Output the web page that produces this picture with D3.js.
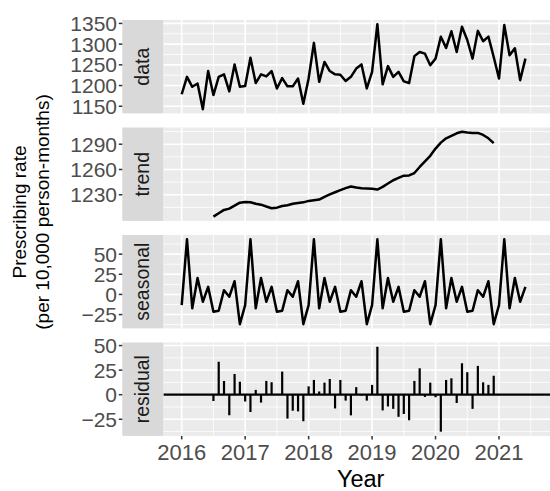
<!DOCTYPE html>
<html><head><meta charset="utf-8">
<script src="https://cdn.jsdelivr.net/npm/d3@7"></script>
<style>body{margin:0;background:#fff}svg{display:block}</style>
</head><body>
<svg id="c" width="550" height="491"></svg>
<script>
// ---- data (monthly, Jan 2016 .. Jun 2021) ----
const startYear = 2016;
const dataVals = [1179,1221,1197,1205,1143,1235,1177,1221,1227,1186,1251,1197,
  1199,1267,1206,1227,1222,1235,1193,1218,1198,1198,1217,1156,
  1217,1303,1209,1257,1235,1227,1226,1211,1221,1241,1251,1193,
  1233,1348,1203,1247,1221,1233,1210,1206,1271,1281,1277,1249,
  1265,1318,1291,1331,1281,1342,1310,1265,1332,1307,1318,1269,
  1217,1346,1273,1290,1213,1265];
const trendVals = [null,null,null,null,null,null,
  1204,1208,1212,1213.5,1217,1220.6,
  1221.3,1221,1219.4,1218.2,1216,1214,1214.7,1216.6,1217.5,1219.4,1220.2,1221,
  1222.7,1223.5,1224.3,1227.6,1230.4,1233,1235.4,1237.8,1239.8,1238.6,1237.8,1237.4,
  1237,1236.2,1239.4,1243.3,1247.2,1250,1252.7,1253,1255.8,1263,1269.5,1276.2,
  1284.8,1291.9,1297,1300,1303,1304.8,1304,1303.4,1303.4,1301,1297,1291.2,
  null,null,null,null,null,null];
const seasonalVals = [-13.2,68.5,-17.2,20.4,-9.1,9.4,-21.4,-20.2,5.3,-2.9,16.4,-36.9,
  -13.2,68.5,-17.2,20.4,-9.1,9.4,-21.4,-20.2,5.3,-2.9,16.4,-36.9,
  -13.2,68.5,-17.2,20.4,-9.1,9.4,-21.4,-20.2,5.3,-2.9,16.4,-36.9,
  -13.2,68.5,-17.2,20.4,-9.1,9.4,-21.4,-20.2,5.3,-2.9,16.4,-36.9,
  -13.2,68.5,-17.2,20.4,-9.1,9.4,-21.4,-20.2,5.3,-2.9,16.4,-36.9,
  -13.2,68.5,-17.2,20.4,-9.1,9.4];
const residualVals = [null,null,null,null,null,null,
  -6.3,33.5,14,-21,21,13.3,
  -7,-17.6,4.9,-8,14,12.7,0.8,23.5,-24.3,-16.3,-17,-27,
  8.5,15,3.3,12.3,16,-14,15,-6,-21,7.7,-0.8,-6,
  10,48.8,-16,-12,-14.4,-22.5,-19.6,-26,14,26.9,-2.3,12.3,
  -2.6,-37.6,15,16.7,-8.4,32,22.9,-14.4,29.3,12.6,10,19.3,
  null,null,null,null,null,null];
const panelNames = ["data","trend","seasonal","residual"];
const yTickData = [1150,1200,1250,1300,1350];
const yTickTrend = [1230,1260,1290];
const yTickSeasonal = [-25,0,25,50];
const yTickResidual = [-25,0,25,50];
const xTickYears = [2016,2017,2018,2019,2020,2021];
const xTitle = "Year";
const yTitle1 = "Prescribing rate";
const yTitle2 = "(per 10,000 person-months)";

const series = [dataVals, trendVals, seasonalVals, residualVals];
const ticksList = [yTickData, yTickTrend, yTickSeasonal, yTickResidual];

// ---- layout ----
const svg = d3.select("#c");
const font = "'Liberation Sans', Arial, Helvetica, sans-serif";
const stripL = 122.3, panL = 163.3, panR = 558;
const top0 = 20, ph = 93.4, gap = 14.1;
const x = d3.scaleLinear().domain([2016, 2021]).range([181.7, 499]);
const tx = i => startYear + i / 12;
const xDom = [x.invert(panL), x.invert(panR)];

svg.append("defs").append("clipPath").attr("id", "clipAll")
  .append("rect").attr("x", panL).attr("y", 0).attr("width", panR - panL).attr("height", 491);

function minorsOf(ticks, lo, hi) {
  const step = ticks[1] - ticks[0];
  const out = [];
  for (let v = ticks[0] - step / 2; v <= hi; v += step) if (v >= lo) out.push(v);
  for (let v = ticks[0] - step * 1.5; v >= lo; v -= step) out.push(v);
  return out;
}

series.forEach((vals, p) => {
  const y0 = top0 + p * (ph + gap), y1 = y0 + ph;
  const valid = vals.filter(v => v != null);
  const ext = d3.extent(valid);
  const pad = (ext[1] - ext[0]) * 0.05;
  const y = d3.scaleLinear().domain([ext[0] - pad, ext[1] + pad]).range([y1, y0]);
  const g = svg.append("g");
  g.append("rect").attr("x", panL).attr("y", y0).attr("width", panR - panL).attr("height", ph).attr("fill", "#EBEBEB");
  const lo = y.domain()[0], hi = y.domain()[1];
  const ticks = ticksList[p];
  g.selectAll(".hm").data(minorsOf(ticks, lo, hi)).join("line")
    .attr("x1", panL).attr("x2", panR).attr("y1", d => y(d)).attr("y2", d => y(d))
    .attr("stroke", "#fff").attr("stroke-width", 0.8);
  const xm = xTickYears.map(d => d - 0.5).concat([2021.5]).filter(d => d >= xDom[0] && d <= xDom[1]);
  g.selectAll(".vm").data(xm).join("line")
    .attr("x1", d => x(d)).attr("x2", d => x(d)).attr("y1", y0).attr("y2", y1)
    .attr("stroke", "#fff").attr("stroke-width", 0.8);
  g.selectAll(".hM").data(ticks).join("line")
    .attr("x1", panL).attr("x2", panR).attr("y1", d => y(d)).attr("y2", d => y(d))
    .attr("stroke", "#fff").attr("stroke-width", 1.6);
  g.selectAll(".vM").data(xTickYears).join("line")
    .attr("x1", d => x(d)).attr("x2", d => x(d)).attr("y1", y0).attr("y2", y1)
    .attr("stroke", "#fff").attr("stroke-width", 1.6);

  const m = g.append("g").attr("clip-path", "url(#clipAll)");
  if (panelNames[p] === "residual") {
    m.append("line").attr("x1", panL).attr("x2", panR).attr("y1", y(0)).attr("y2", y(0))
      .attr("stroke", "#000").attr("stroke-width", 2.2);
    m.selectAll(".seg").data(vals.map((v, i) => ({i, v})).filter(d => d.v != null)).join("line")
      .attr("x1", d => x(tx(d.i))).attr("x2", d => x(tx(d.i)))
      .attr("y1", y(0)).attr("y2", d => y(d.v))
      .attr("stroke", "#000").attr("stroke-width", 2.2);
  } else {
    const line = d3.line().defined(d => d != null).x((d, i) => x(tx(i))).y(d => y(d));
    m.append("path").attr("d", line(vals)).attr("fill", "none")
      .attr("stroke", "#000").attr("stroke-width", 2.5).attr("stroke-linejoin", "round");
  }

  g.append("rect").attr("x", stripL).attr("y", y0).attr("width", panL - stripL).attr("height", ph).attr("fill", "#D9D9D9");
  g.append("text").attr("transform", `translate(149,${(y0 + y1) / 2}) rotate(-90)`)
    .attr("text-anchor", "middle").attr("font-family", font).attr("font-size", 19.5)
    .attr("fill", "#1A1A1A").text(panelNames[p]);

  g.selectAll(".yt").data(ticks).join("line")
    .attr("x1", 118.8).attr("x2", stripL).attr("y1", d => y(d)).attr("y2", d => y(d))
    .attr("stroke", "#333").attr("stroke-width", 1.5);
  g.selectAll(".yl").data(ticks).join("text")
    .attr("x", 117).attr("y", d => y(d)).attr("dy", "0.36em")
    .attr("text-anchor", "end").attr("font-family", font).attr("font-size", 21)
    .attr("fill", "#4D4D4D").text(d => d < 0 ? "\u2212" + Math.abs(d) : d);

  if (p === series.length - 1) {
    g.selectAll(".xt").data(xTickYears).join("line")
      .attr("x1", d => x(d)).attr("x2", d => x(d)).attr("y1", y1).attr("y2", y1 + 3.5)
      .attr("stroke", "#333").attr("stroke-width", 1.5);
    g.selectAll(".xl").data(xTickYears).join("text")
      .attr("x", d => x(d)).attr("y", 459.5).attr("text-anchor", "middle")
      .attr("font-family", font).attr("font-size", 22).attr("fill", "#4D4D4D").text(d => d);
  }
});

svg.append("text").attr("x", 360.7).attr("y", 486.5).attr("text-anchor", "middle")
  .attr("font-family", font).attr("font-size", 23.5).attr("fill", "#000").text(xTitle);
svg.append("text").attr("transform", "translate(25.5,212) rotate(-90)").attr("text-anchor", "middle")
  .attr("font-family", font).attr("font-size", 19).attr("fill", "#000").text(yTitle1);
svg.append("text").attr("transform", "translate(48.5,212) rotate(-90)").attr("text-anchor", "middle")
  .attr("font-family", font).attr("font-size", 19).attr("fill", "#000").text(yTitle2);
</script>
</body></html>
